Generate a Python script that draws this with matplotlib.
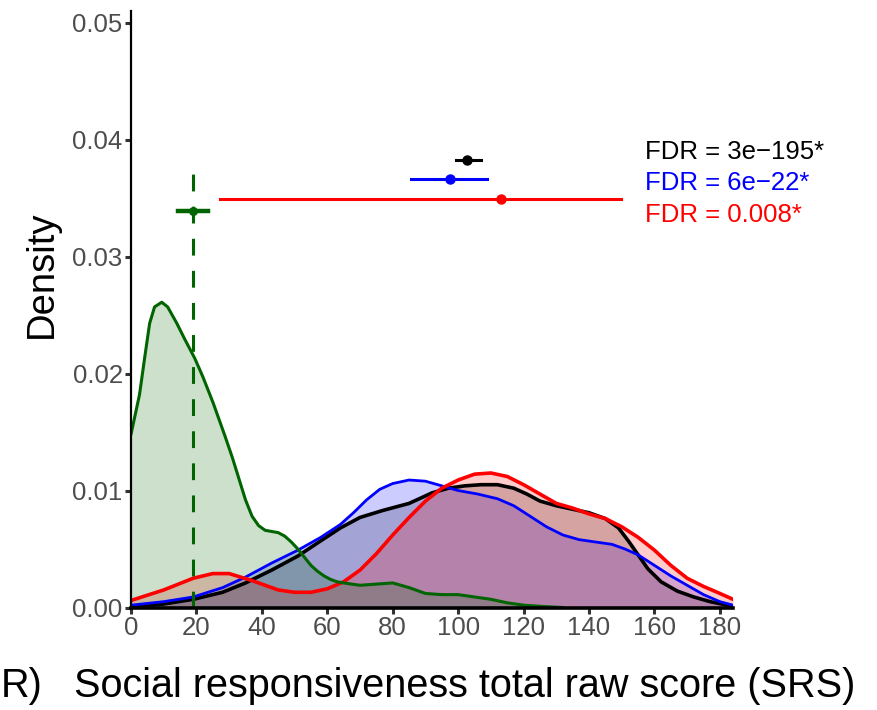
import matplotlib
matplotlib.use("Agg")
import matplotlib.pyplot as plt

plt.rcParams['font.family'] = ['Liberation Sans', 'DejaVu Sans']

# Density curves of SRS total raw score per group
green_x = [0, 2.6, 4.2, 5.7, 7.2, 9.4, 11.2, 14.0, 16.5, 19.5, 22, 25.1,
           28.8, 31, 33, 35, 37, 39, 41, 43, 45, 47, 49, 51, 53, 55, 57, 59, 61,
           63, 65, 70, 75, 80, 85, 90, 95, 100, 105, 110, 115, 120, 125, 132]
green_y = [0.0148, 0.0182, 0.0214, 0.0243, 0.0257, 0.0261, 0.0257,
           0.0243, 0.0229, 0.0213, 0.0197, 0.0175, 0.0146, 0.0128, 0.0110,
           0.0092, 0.0078, 0.0070, 0.0066, 0.0065, 0.0064, 0.0061, 0.0056,
           0.0050, 0.0043, 0.0036, 0.0031, 0.0027, 0.0024, 0.0022, 0.0021,
           0.0019, 0.0020, 0.0021, 0.0017, 0.0012, 0.0011, 0.0011, 0.0009,
           0.0007, 0.0004, 0.0002, 0.0001, 0.0000]

blue_x = [0, 10, 19, 28, 35, 43, 51, 58, 64, 68, 72, 76, 80, 85, 90, 95, 100,
          106, 112, 117, 122, 127, 132, 137, 142, 147, 151, 155, 160, 165, 170,
          175, 180, 184]
blue_y = [0.0002, 0.0005, 0.0009, 0.0017, 0.0026, 0.0038, 0.0049, 0.0060,
          0.0071, 0.0081, 0.0092, 0.0101, 0.0106, 0.0109, 0.0108, 0.0104,
          0.0100, 0.0097, 0.0093, 0.0087, 0.0078, 0.0069, 0.0062, 0.0058,
          0.0056, 0.0054, 0.0050, 0.0045, 0.0036, 0.0027, 0.0019, 0.0011,
          0.0005, 0.0002]

black_x = [0, 10, 19, 28, 35, 43, 51, 58, 64, 70, 77, 85, 92, 97, 102, 107, 112,
           117, 121, 125, 130, 135, 140, 145, 149, 152, 155, 158, 162, 167, 172,
           177, 184]
black_y = [0.0000, 0.0003, 0.0007, 0.0013, 0.0021, 0.0032, 0.0044, 0.0057,
           0.0068, 0.0077, 0.0083, 0.0089, 0.0098, 0.0102, 0.0104, 0.0105,
           0.0105, 0.0102, 0.0097, 0.0091, 0.0087, 0.0084, 0.0081, 0.0076,
           0.0068, 0.0057, 0.0045, 0.0033, 0.0022, 0.0014, 0.0009, 0.0005,
           0.0001]

red_x = [0, 10, 19, 25, 30, 37, 45, 50, 55, 60, 65, 70, 75, 80, 85, 90, 95, 100,
         105, 110, 115, 120, 125, 130, 135, 140, 145, 150, 155, 160, 165, 170,
         175, 180, 184]
red_y = [0.0006, 0.0015, 0.0025, 0.0029, 0.0029, 0.0023, 0.0015, 0.0013,
         0.0013, 0.0016, 0.0022, 0.0032, 0.0046, 0.0062, 0.0077, 0.0091,
         0.0102, 0.0109, 0.0114, 0.0115, 0.0112, 0.0105, 0.0097, 0.0089,
         0.0085, 0.0080, 0.0076, 0.0069, 0.0060, 0.0049, 0.0036, 0.0025,
         0.0018, 0.0012, 0.0007]

# Group means with intervals and FDR labels
grp_colors = ['black', '#0000FF', '#FF0000']
grp_mean = [102.7, 97.5, 113.1]
grp_lo = [99.4, 85.6, 27.2]
grp_hi = [107.0, 108.9, 149.8]
grp_level = [0.0383, 0.0366, 0.0349]
fdr_labels = ['FDR = 3e\u2212195*', 'FDR = 6e\u221222*', 'FDR = 0.008*']

ctrl_mean = 19.0
ctrl_lo = 14.4
ctrl_hi = 23.5
ctrl_level = 0.0339
ctrl_line_top = 0.0380

x_ticks = [0, 20, 40, 60, 80, 100, 120, 140, 160, 180]
y_ticks = [0.00, 0.01, 0.02, 0.03, 0.04, 0.05]

green = '#006400'

fig = plt.figure(figsize=(8.77, 7.10), dpi=100)
ax = fig.add_axes([131 / 877, 1 - 607.5 / 710, (733 - 131) / 877, (607.5 - 11) / 710])

series = [
    (black_x, black_y, 'black', 2.6),
    (blue_x, blue_y, '#0000FF', 2.0),
    (red_x, red_y, '#FF0000', 2.6),
    (green_x, green_y, green, 2.2),
]
for xs, ys, c, lw in series:
    ax.fill_between(xs, 0, ys, color=c, alpha=0.2, linewidth=0)
for xs, ys, c, lw in series:
    ax.plot(xs, ys, color=c, lw=lw, solid_capstyle='round', solid_joinstyle='round')

# control group mean marker and dashed reference line
ax.plot([ctrl_mean, ctrl_mean], [0, ctrl_line_top], color=green, lw=2.2,
        linestyle=(0, (5.5, 5)))
ax.plot([ctrl_lo, ctrl_hi], [ctrl_level, ctrl_level], color=green, lw=3.2)
ax.plot([ctrl_mean], [ctrl_level], 'o', color=green, ms=5.5)

for c, m, lo, hi, lv in zip(grp_colors, grp_mean, grp_lo, grp_hi, grp_level):
    ax.plot([lo, hi], [lv, lv], color=c, lw=2.2)
    ax.plot([m], [lv], 'o', color=c, ms=6.5)

for i, (c, t) in enumerate(zip(grp_colors, fdr_labels)):
    fig.text(645 / 877, 1 - (152 + 31.5 * i) / 710, t, color=c, fontsize=18.5,
             ha='left', va='center')

ax.set_xlim(0, 184)
ax.set_ylim(0, 0.051)
ax.set_xticks(x_ticks)
ax.set_xticklabels([str(v) for v in x_ticks])
ax.set_yticks(y_ticks)
ax.set_yticklabels(['%.2f' % v for v in y_ticks])
ax.tick_params(axis='both', colors='#333333', labelcolor='#4D4D4D',
               labelsize=18.5, length=4, width=2.2, pad=2)
for s in ['top', 'right']:
    ax.spines[s].set_visible(False)
ax.spines['left'].set_linewidth(1.6)
ax.spines['bottom'].set_linewidth(2.6)
ax.spines['left'].set_color('black')
ax.spines['bottom'].set_color('black')
ax.patch.set_alpha(0)

fig.text(465 / 877, 1 - 686 / 710, 'Social responsiveness total raw score (SRS)',
         fontsize=28.5, ha='center', va='center', color='black')
fig.text(42 / 877, 1 - 274 / 710, 'Density', fontsize=27.5, rotation=90,
         ha='center', va='center', color='black')
fig.text(0.5 / 877, 1 - 686 / 710, 'R)', fontsize=28.5, ha='left', va='center',
         color='black')

fig.savefig('out.png', dpi=100)
